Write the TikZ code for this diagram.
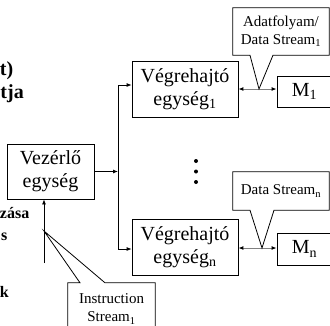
\documentclass[tikz,border=0pt]{standalone}
\usepackage{fontspec}
\setmainfont{Liberation Serif}
\usepackage{tikz}
\usepackage{xcolor}
\usetikzlibrary{arrows.meta,positioning}

\tikzset{
  box/.style={draw,line width=0.8pt,align=center,inner sep=0pt,font=\fontsize{20}{23}\selectfont},
  ctext/.style={align=center,inner sep=0pt,font=\fontsize{15}{18}\selectfont},
  cline/.style={draw,line width=0.8pt},
  arr/.style={line width=0.8pt,-{Latex[length=5pt,width=4pt]}},
  dstream/.style={gray,line width=1pt,{Latex[length=5pt,width=4pt,black]}-{Latex[length=5pt,width=4pt,black]}},
  frag/.style={font=\bfseries\fontsize{20}{23}\selectfont,inner sep=0pt},
  subfrag/.style={font=\bfseries\fontsize{16}{22}\selectfont,inner sep=0pt}
}

\begin{document}
\begin{tikzpicture}[x=1pt,y=-1pt]
\useasboundingbox (0,0) rectangle (330,325);
\clip (0,0) rectangle (330,325);
\node[frag,anchor=base east] (f1) at (13.5,75) {t)};
\node[frag,anchor=base east] (f2) at (24,98) {tja};
\node[subfrag,anchor=base east] (f3) at (29.5,218) {zása};
\node[subfrag,anchor=base east] (f4) at (7.5,240) {s};
\node[subfrag,anchor=base east] (f5) at (9,297) {k};
\node[box,minimum width=87,minimum height=55] (vez) at (50.5,171.5) {Vezérlő\\egység};
\node[box,minimum width=106,minimum height=56] (v1) at (185,89) {Végrehajtó\\egység\textsubscript{1}};
\node[box,minimum width=106,minimum height=56] (vn) at (185,247) {Végrehajtó\\egység\textsubscript{n}};
\node[box,minimum width=55,minimum height=31] (m1) at (304.5,91.5) {M\textsubscript{1}};
\node[box,minimum width=55,minimum height=32] (mn) at (304.5,249) {M\textsubscript{n}};
\coordinate (bus) at (118,171.5);
\draw[arr] (vez.east) -- (bus);
\draw[arr] (bus) |- ([yshift=4]v1.west);
\draw[arr] (bus) |- ([yshift=-2]vn.west);
\fill (196,161) circle (2);
\fill (196,171.5) circle (2);
\fill (196,182) circle (2);
\coordinate (tip1) at (259,89);
\coordinate (tipn) at (262,248);
\draw[dstream] (tip1 -| v1.east) -- (tip1 -| m1.west);
\draw[dstream] (tipn -| vn.east) -- (tipn -| mn.west);
\node[ctext,minimum width=96,minimum height=47] (ds1) at (281,31.5) {Adatfolyam/\\Data Stream\textsubscript{1}};
\draw[cline] (ds1.north west) -- (ds1.north east) -- (ds1.south east) -- ([xshift=-8]ds1.south) -- (tip1) -- ([xshift=-31]ds1.south) -- (ds1.south west) -- cycle;
\node[ctext,minimum width=96,minimum height=38] (dsn) at (281,191) {Data Stream\textsubscript{n}};
\draw[cline] (dsn.north west) -- (dsn.north east) -- (dsn.south east) -- ([xshift=-7]dsn.south) -- (tipn) -- ([xshift=-31]dsn.south) -- (dsn.south west) -- cycle;
\coordinate (isrc) at (44,263);
\coordinate (itip) at (44,231);
\draw[arr] (isrc) -- (isrc |- vez.south);
\node[ctext,minimum width=87,minimum height=52] (is1) at (111.5,309) {Instruction\\Stream\textsubscript{1}};
\draw[cline] (is1.north west) -- ([xshift=-31.5]is1.north) -- (itip) -- ([xshift=-6.5]is1.north) -- (is1.north east) -- (is1.south east) -- (is1.south west) -- cycle;
\end{tikzpicture}
\end{document}
